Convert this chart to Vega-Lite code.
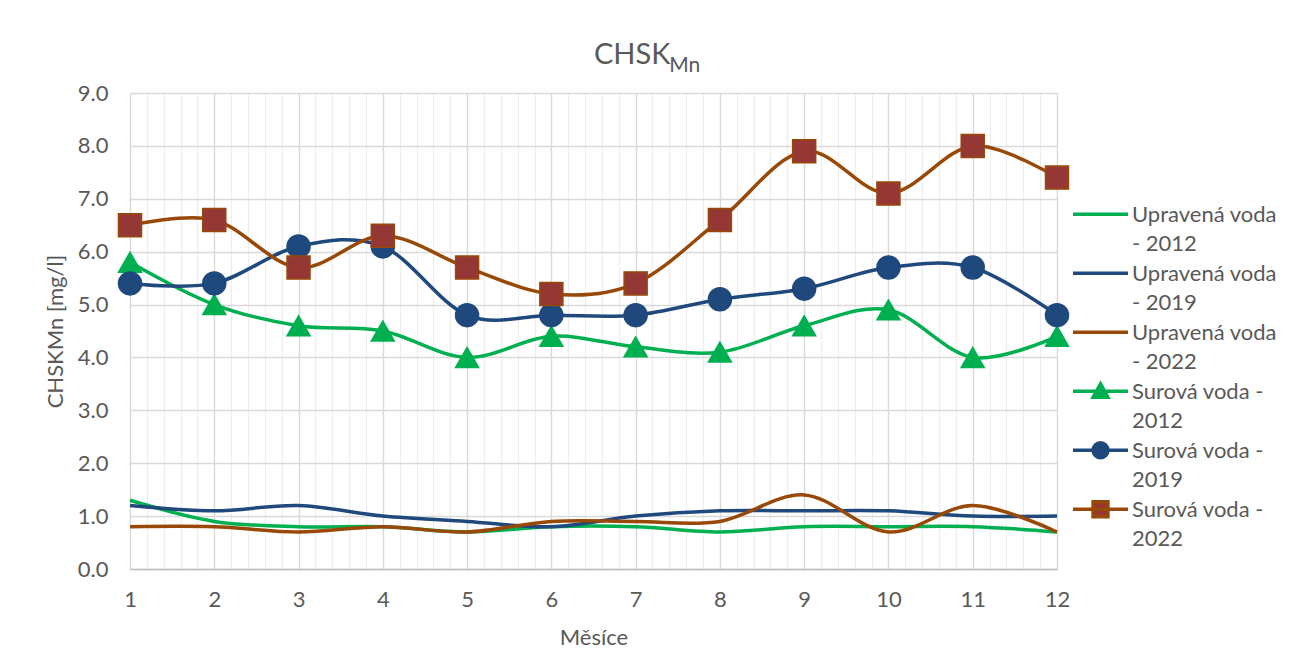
{
  "$schema": "https://vega.github.io/schema/vega-lite/v6.json",
  "width": 927,
  "height": 476,
  "autosize": {"type": "none"},
  "padding": {"left": 130, "top": 93, "right": 237, "bottom": 92},
  "background": "white",
  "title": {
    "text": "CHSK",
    "subtitle": "\u2060\u00a0\u00a0\u00a0\u00a0\u00a0\u00a0\u00a0\u00a0\u00a0\u00a0\u00a0\u00a0\u00a0\u00a0Mn",
    "anchor": "start",
    "frame": "group",
    "align": "left",
    "dx": 464,
    "offset": 6,
    "fontSize": 29,
    "fontWeight": "normal",
    "color": "#595959",
    "subtitleFontSize": 21,
    "subtitleColor": "#595959",
    "subtitlePadding": -15,
    "font": "Lato",
    "subtitleFont": "Lato"
  },
  "data": {
    "values": [
      {"month": 1, "series": "Upravená voda - 2012", "value": 1.3},
      {"month": 2, "series": "Upravená voda - 2012", "value": 0.9},
      {"month": 3, "series": "Upravená voda - 2012", "value": 0.8},
      {"month": 4, "series": "Upravená voda - 2012", "value": 0.8},
      {"month": 5, "series": "Upravená voda - 2012", "value": 0.7},
      {"month": 6, "series": "Upravená voda - 2012", "value": 0.8},
      {"month": 7, "series": "Upravená voda - 2012", "value": 0.8},
      {"month": 8, "series": "Upravená voda - 2012", "value": 0.7},
      {"month": 9, "series": "Upravená voda - 2012", "value": 0.8},
      {"month": 10, "series": "Upravená voda - 2012", "value": 0.8},
      {"month": 11, "series": "Upravená voda - 2012", "value": 0.8},
      {"month": 12, "series": "Upravená voda - 2012", "value": 0.7},
      {"month": 1, "series": "Upravená voda - 2019", "value": 1.2},
      {"month": 2, "series": "Upravená voda - 2019", "value": 1.1},
      {"month": 3, "series": "Upravená voda - 2019", "value": 1.2},
      {"month": 4, "series": "Upravená voda - 2019", "value": 1.0},
      {"month": 5, "series": "Upravená voda - 2019", "value": 0.9},
      {"month": 6, "series": "Upravená voda - 2019", "value": 0.8},
      {"month": 7, "series": "Upravená voda - 2019", "value": 1.0},
      {"month": 8, "series": "Upravená voda - 2019", "value": 1.1},
      {"month": 9, "series": "Upravená voda - 2019", "value": 1.1},
      {"month": 10, "series": "Upravená voda - 2019", "value": 1.1},
      {"month": 11, "series": "Upravená voda - 2019", "value": 1.0},
      {"month": 12, "series": "Upravená voda - 2019", "value": 1.0},
      {"month": 1, "series": "Upravená voda - 2022", "value": 0.8},
      {"month": 2, "series": "Upravená voda - 2022", "value": 0.8},
      {"month": 3, "series": "Upravená voda - 2022", "value": 0.7},
      {"month": 4, "series": "Upravená voda - 2022", "value": 0.8},
      {"month": 5, "series": "Upravená voda - 2022", "value": 0.7},
      {"month": 6, "series": "Upravená voda - 2022", "value": 0.9},
      {"month": 7, "series": "Upravená voda - 2022", "value": 0.9},
      {"month": 8, "series": "Upravená voda - 2022", "value": 0.9},
      {"month": 9, "series": "Upravená voda - 2022", "value": 1.4},
      {"month": 10, "series": "Upravená voda - 2022", "value": 0.7},
      {"month": 11, "series": "Upravená voda - 2022", "value": 1.2},
      {"month": 12, "series": "Upravená voda - 2022", "value": 0.7},
      {"month": 1, "series": "Surová voda - 2012", "value": 5.8},
      {"month": 2, "series": "Surová voda - 2012", "value": 5.0},
      {"month": 3, "series": "Surová voda - 2012", "value": 4.6},
      {"month": 4, "series": "Surová voda - 2012", "value": 4.5},
      {"month": 5, "series": "Surová voda - 2012", "value": 4.0},
      {"month": 6, "series": "Surová voda - 2012", "value": 4.4},
      {"month": 7, "series": "Surová voda - 2012", "value": 4.2},
      {"month": 8, "series": "Surová voda - 2012", "value": 4.1},
      {"month": 9, "series": "Surová voda - 2012", "value": 4.6},
      {"month": 10, "series": "Surová voda - 2012", "value": 4.9},
      {"month": 11, "series": "Surová voda - 2012", "value": 4.0},
      {"month": 12, "series": "Surová voda - 2012", "value": 4.4},
      {"month": 1, "series": "Surová voda - 2019", "value": 5.4},
      {"month": 2, "series": "Surová voda - 2019", "value": 5.4},
      {"month": 3, "series": "Surová voda - 2019", "value": 6.1},
      {"month": 4, "series": "Surová voda - 2019", "value": 6.1},
      {"month": 5, "series": "Surová voda - 2019", "value": 4.8},
      {"month": 6, "series": "Surová voda - 2019", "value": 4.8},
      {"month": 7, "series": "Surová voda - 2019", "value": 4.8},
      {"month": 8, "series": "Surová voda - 2019", "value": 5.1},
      {"month": 9, "series": "Surová voda - 2019", "value": 5.3},
      {"month": 10, "series": "Surová voda - 2019", "value": 5.7},
      {"month": 11, "series": "Surová voda - 2019", "value": 5.7},
      {"month": 12, "series": "Surová voda - 2019", "value": 4.8},
      {"month": 1, "series": "Surová voda - 2022", "value": 6.5},
      {"month": 2, "series": "Surová voda - 2022", "value": 6.6},
      {"month": 3, "series": "Surová voda - 2022", "value": 5.7},
      {"month": 4, "series": "Surová voda - 2022", "value": 6.3},
      {"month": 5, "series": "Surová voda - 2022", "value": 5.7},
      {"month": 6, "series": "Surová voda - 2022", "value": 5.2},
      {"month": 7, "series": "Surová voda - 2022", "value": 5.4},
      {"month": 8, "series": "Surová voda - 2022", "value": 6.6},
      {"month": 9, "series": "Surová voda - 2022", "value": 7.9},
      {"month": 10, "series": "Surová voda - 2022", "value": 7.1},
      {"month": 11, "series": "Surová voda - 2022", "value": 8.0},
      {"month": 12, "series": "Surová voda - 2022", "value": 7.4}
    ]
  },
  "layer": [
    {
      "mark": {"type": "line", "interpolate": "cardinal", "strokeWidth": 3.5},
      "encoding": {
        "x": {
          "field": "month",
          "type": "quantitative",
          "scale": {"domain": [1, 12], "nice": false, "zero": false},
          "axis": {
            "orient": "top",
            "tickCount": 55,
            "labels": false,
            "ticks": false,
            "domain": false,
            "title": null,
            "grid": true,
            "gridColor": "#eeeeee",
            "gridWidth": 1.3
          }
        },
        "y": {
          "field": "value",
          "type": "quantitative",
          "scale": {"domain": [0, 9], "nice": false},
          "axis": {
            "values": [0, 1, 2, 3, 4, 5, 6, 7, 8, 9],
            "format": ".1f",
            "grid": true,
            "gridColor": "#d9d9d9",
            "gridWidth": 1.3,
            "domain": false,
            "ticks": false,
            "tickSize": 0,
            "labelPadding": 22,
            "labelFontSize": 22,
            "labelColor": "#595959",
            "labelFont": "Lato",
            "title": "CHSKMn [mg/l]",
            "titleFont": "Lato",
            "titleFontSize": 22,
            "titleFontWeight": "normal",
            "titleColor": "#595959",
            "titlePadding": 10
          }
        },
        "color": {
          "field": "series",
          "type": "nominal",
          "scale": {
            "domain": ["Upravená voda - 2012", "Upravená voda - 2019", "Upravená voda - 2022", "Surová voda - 2012", "Surová voda - 2019", "Surová voda - 2022"],
            "range": ["#00B050", "#1F497D", "#984807", "#00B050", "#1F497D", "#984807"]
          },
          "legend": {
            "orient": "none",
            "legendX": 941,
            "legendY": 106,
            "title": null,
            "padding": 0,
            "symbolSize": 3025,
            "symbolStrokeWidth": 3.5,
            "labelFont": "Lato",
            "labelFontSize": 22,
            "labelColor": "#595959",
            "labelLimit": 400,
            "labelOffset": 2,
            "rowPadding": 3,
            "labelExpr": "[substring(datum.label, 0, 13), substring(datum.label, 14)]",
            "encode": {
              "symbols": {
                "update": {
                  "y": {"value": 15.25},
                  "shape": {"signal": "datum.value == 'Surová voda - 2012' ? 'M-1,0H1M-0.27,0.22L0,-0.27L0.27,0.22Z' : datum.value == 'Surová voda - 2019' ? 'M-1,0H1M0.27,0A0.27,0.27,0,1,1,-0.27,0A0.27,0.27,0,1,1,0.27,0Z' : datum.value == 'Surová voda - 2022' ? 'M-1,0H1M-0.27,-0.27H0.27V0.27H-0.27Z' : 'M-1,0H1'"},
                  "fill": {"signal": "datum.value == 'Surová voda - 2022' ? '#953735' : datum.value == 'Surová voda - 2019' ? '#1F497D' : datum.value == 'Surová voda - 2012' ? '#00B050' : 'transparent'"}
                }
              },
              "labels": {
                "update": {
                  "lineHeight": {"value": 29},
                  "dy": {"value": -14}
                }
              }
            }
          }
        }
      }
    },
    {
      "transform": [{"filter": "indexof(datum.series, 'Surová') == 0"}],
      "mark": {"type": "point", "filled": true, "size": 529, "strokeWidth": 1.5, "opacity": 1},
      "encoding": {
        "x": {
          "field": "month",
          "type": "quantitative",
          "axis": {
            "values": [1, 2, 3, 4, 5, 6, 7, 8, 9, 10, 11, 12],
            "grid": true,
            "gridColor": "#d9d9d9",
            "gridWidth": 1.3,
            "domain": true,
            "domainColor": "#bfbfbf",
            "domainWidth": 1.5,
            "ticks": false,
            "tickSize": 0,
            "labelPadding": 20,
            "labelFontSize": 22,
            "labelColor": "#595959",
            "labelFont": "Lato",
            "labelFlush": false,
            "title": "Měsíce",
            "titleFont": "Lato",
            "titleFontSize": 22,
            "titleFontWeight": "normal",
            "titleColor": "#595959",
            "titlePadding": 17
          }
        },
        "y": {"field": "value", "type": "quantitative"},
        "shape": {
          "field": "series",
          "type": "nominal",
          "scale": {"domain": ["Surová voda - 2012", "Surová voda - 2019", "Surová voda - 2022"], "range": ["triangle-up", "circle", "square"]},
          "legend": null
        },
        "fill": {
          "field": "series",
          "type": "nominal",
          "scale": {"domain": ["Surová voda - 2012", "Surová voda - 2019", "Surová voda - 2022"], "range": ["#00B050", "#1F497D", "#953735"]},
          "legend": null
        },
        "stroke": {
          "field": "series",
          "type": "nominal",
          "scale": {"domain": ["Surová voda - 2012", "Surová voda - 2019", "Surová voda - 2022"], "range": ["#00B050", "#1F497D", "#984807"]},
          "legend": null
        }
      }
    }
  ],
  "resolve": {"axis": {"x": "independent"}},
  "config": {
    "view": {"stroke": null},
    "font": "Lato"
  }
}
